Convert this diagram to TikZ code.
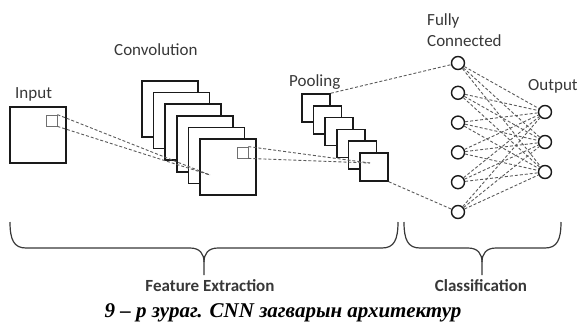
\documentclass[tikz,border=0pt]{standalone}
\usepackage{fontspec}
\setmainfont{Carlito}
\newfontfamily\captionfont{Liberation Serif}
\usepackage{xcolor}
\usepackage{tikz}
\usetikzlibrary{positioning,calc}
\definecolor{cnnInk}{HTML}{1A1A1A}
\definecolor{cnnText}{HTML}{383838}
\definecolor{cnnLink}{HTML}{5A5A5A}
\definecolor{cnnWindow}{HTML}{707070}
\tikzset{
  featureMap/.style={
    rectangle,
    draw=cnnInk,
    fill=white,
    line width=1.6pt,
    minimum size=56pt,
    inner sep=0pt
  },
  poolMap/.style={
    rectangle,
    draw=cnnInk,
    fill=white,
    line width=1.5pt,
    minimum size=28pt,
    inner sep=0pt
  },
  window/.style={
    rectangle,
    draw=cnnWindow,
    line width=0.8pt,
    minimum size=11pt,
    inner sep=0pt
  },
  neuron/.style={
    circle,
    draw=cnnInk,
    fill=white,
    line width=1.4pt,
    minimum size=13pt,
    inner sep=0pt
  },
  link/.style={
    draw=cnnLink,
    line width=0.9pt,
    dash pattern=on 3pt off 2pt
  },
  groupBrace/.style={
    draw=cnnText,
    line width=1.2pt
  },
  stageLabel/.style={
    font=\fontsize{17}{20}\selectfont,
    text=cnnText,
    inner sep=0pt
  },
  groupLabel/.style={
    font=\fontsize{17}{20}\selectfont\bfseries,
    text=cnnText,
    inner sep=0pt,
    anchor=base
  }
}

\begin{document}
\begin{tikzpicture}[x=1pt,y=-1pt]
  \useasboundingbox (0,0) rectangle (579,325);
  % input image
  \node[featureMap] (input) at (38,135) {};
  \node[window] (inWin) at (51.5,120.5) {};
  \node[stageLabel,anchor=base west] (inputLabel) at (15,98) {Input};
  % convolution maps
  \foreach \i in {1,...,6}
    \node[featureMap] (conv\i) at ({170+11.6*(\i-1)},{109+11.6*(\i-1)}) {};
  \node[window] (convWin) at (242.5,152.5) {};
  \coordinate (convHit) at (210,175);
  \node[stageLabel,anchor=base west] (convLabel) at (114,55) {Convolution};
  % pooling maps
  \foreach \i in {1,...,6}
    \node[poolMap] (pool\i) at ({316+11.6*(\i-1)},{108+11.8*(\i-1)}) {};
  \coordinate (poolHit) at (370,163);
  \node[stageLabel,anchor=base west] (poolLabel) at (289,86) {Pooling};
  % fully connected and output layers
  \foreach \i in {1,...,6}
    \node[neuron] (fc\i) at (458,{63+29.8*(\i-1)}) {};
  \foreach \j in {1,...,3}
    \node[neuron] (out\j) at (545,{112+30*(\j-1)}) {};
  \node[stageLabel,anchor=base west,align=left] (fcLabel) at (427,46) {Fully\\[1pt]Connected};
  \node[stageLabel,anchor=base west] (outLabel) at (528,90) {Output};
  % receptive fields
  \draw[link] (inWin.north east) -- (convHit);
  \draw[link] (inWin.south east) -- (convHit);
  \draw[link] (convWin.north east) -- (poolHit);
  \draw[link] (convWin.south east) -- (poolHit);
  \draw[link] (pool1.north east) -- (fc1);
  \draw[link] (pool6.south east) -- (fc6);
  \foreach \i in {1,...,6}
    \foreach \j in {1,...,3}
      \draw[link] (fc\i) -- (out\j);
  % grouping braces
  \draw[groupBrace] (10,222) .. controls (10,240) and (14,248) .. (26,248) -- (190,248)
    .. controls (200,248) and (204,254) .. (204,262) -- (204,275);
  \draw[groupBrace] (204,262) .. controls (204,254) and (208,248) .. (218,248) -- (382,248)
    .. controls (394,248) and (398,240) .. (398,222);
  \draw[groupBrace] (404,222) .. controls (404,240) and (408,248) .. (420,248) -- (468,248)
    .. controls (478,248) and (482,254) .. (482,262) -- (482,275);
  \draw[groupBrace] (482,262) .. controls (482,254) and (486,248) .. (496,248) -- (545,248)
    .. controls (557,248) and (561,240) .. (561,222);
  \node[groupLabel] (featureLabel) at (210,291) {Feature Extraction};
  \node[groupLabel] (classLabel) at (481,291) {Classification};
  % caption
  \node[anchor=base,inner sep=0pt,font=\captionfont\fontsize{21}{24}\selectfont\bfseries\itshape]
    (caption) at (283,317) {9 – р зураг. CNN загварын архитектур};
\end{tikzpicture}
\end{document}
